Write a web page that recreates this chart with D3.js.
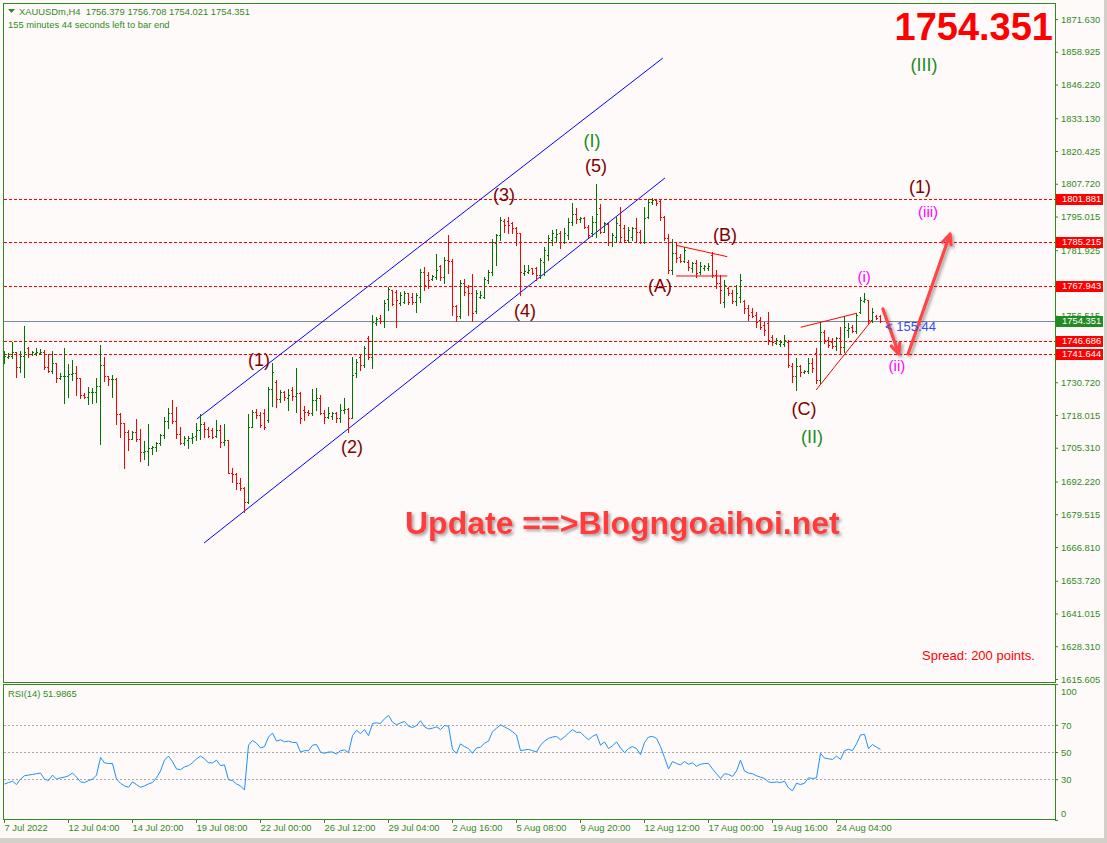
<!DOCTYPE html>
<html>
<head>
<meta charset="utf-8">
<script src="https://cdn.jsdelivr.net/npm/d3@7"></script>
<style>
  body { margin: 0; background: #fffafa; }
  svg { display: block; font-family: "Liberation Sans", Arial, sans-serif; }
</style>
</head>
<body>
<svg id="chart" width="1107" height="843"></svg>
<script>
// XAUUSDm H4 bars (bar index 0 = 7 Jul 2022)
const opens = [
  1740.26,1740.65,1741.04,1742.33,1736.51,1740.78,1743.88,1741.55,1741.94,1741.94,
  1742.59,1736.77,1735.09,1738.06,1732.50,1733.15,1733.28,1733.92,1734.18,1732.50,
  1725.78,1725.13,1726.81,1727.07,1729.27,1737.41,1733.15,1731.86,1731.98,1718.41,
  1714.79,1711.55,1708.71,1711.55,1708.71,1703.80,1704.06,1705.09,1705.48,1707.29,
  1710.26,1715.69,1718.67,1715.69,1710.65,1707.29,1708.32,1708.97,1709.87,1712.20,
  1714.53,1712.46,1712.20,1709.87,1712.20,1707.67,1708.32,1695.65,1695.13,1691.51,
  1689.57,1684.40,1713.49,1719.31,1718.02,1718.66,1716.08,1727.97,1730.95,1724.10,
  1727.07,1724.48,1727.72,1725.39,1726.42,1719.96,1719.31,1718.92,1723.84,1724.48,
  1718.66,1717.11,1717.63,1718.66,1716.73,1719.96,1720.22,1716.73,1734.18,1740.65,
  1737.42,1747.76,1740.65,1753.58,1755.52,1754.61,1762.89,1766.51,1765.86,1761.34,
  1761.98,1765.22,1763.92,1761.98,1763.92,1773.62,1772.33,1770.65,1771.68,1775.82,
  1771.68,1778.15,1777.89,1760.30,1756.42,1769.09,1767.80,1765.47,1758.49,1763.66,
  1763.92,1770.39,1773.62,1784.61,1787.84,1793.40,1793.40,1792.37,1790.43,1788.49,
  1773.23,1773.62,1774.91,1774.91,1772.33,1777.50,1780.09,1785.91,1787.20,1788.49,
  1785.26,1787.85,1793.02,1795.86,1793.92,1794.31,1791.08,1788.49,1793.02,1798.19,
  1789.14,1791.98,1785.26,1787.20,1791.72,1790.43,1785.91,1787.20,1790.43,1789.14,
  1785.26,1794.96,1800.52,1801.55,1801.03,1794.96,1786.55,1774.27,1780.73,1779.44,
  1777.76,1777.24,1774.92,1776.86,1773.62,1774.92,1775.17,1780.09,1772.33,1769.10,
  1762.00,1767.15,1765.47,1762.37,1763.92,1762.40,1759.39,1758.10,1756.81,1754.87,
  1752.93,1753.57,1748.40,1746.08,1745.56,1745.56,1746.46,1737.02,1733.15,1737.02,
  1734.83,1735.21,1738.32,1741.94,1731.59,1750.34,1747.11,1746.46,1744.78,1747.76,
  1744.52,1751.00,1752.02,1750.73,1758.10,1762.37,1762.63,1754.87,1756.42,1756.38
]
const highs = [
  1742.85,1741.94,1746.47,1742.33,1742.85,1752.54,1744.53,1742.85,1743.88,1743.49,
  1743.23,1741.55,1742.85,1738.06,1734.18,1744.14,1737.80,1739.35,1737.16,1732.50,
  1726.42,1729.01,1728.62,1732.24,1745.17,1740.39,1733.15,1733.54,1732.24,1718.67,
  1715.05,1712.20,1711.81,1716.34,1712.59,1707.93,1714.40,1706.00,1707.68,1710.65,
  1717.37,1720.61,1723.84,1721.25,1713.49,1709.87,1709.87,1710.91,1714.79,1718.28,
  1715.43,1713.49,1712.85,1716.08,1714.14,1714.40,1708.32,1697.33,1695.65,1693.45,
  1690.22,1718.41,1719.96,1720.22,1719.31,1720.22,1729.01,1738.06,1731.59,1727.72,
  1727.33,1727.97,1729.01,1736.38,1727.07,1721.51,1719.96,1727.97,1728.36,1725.78,
  1719.96,1721.25,1719.31,1719.31,1722.29,1724.48,1720.60,1740.65,1739.61,1741.68,
  1744.79,1748.67,1756.81,1755.91,1756.81,1762.63,1767.80,1766.51,1766.51,1765.86,
  1766.25,1765.47,1765.22,1765.22,1774.53,1775.56,1773.62,1772.33,1780.47,1776.21,
  1779.44,1787.84,1778.40,1760.69,1770.39,1770.65,1768.45,1772.72,1766.51,1766.25,
  1771.68,1774.27,1786.16,1788.23,1794.95,1793.92,1794.95,1793.02,1790.82,1788.75,
  1776.21,1776.21,1775.17,1775.56,1778.79,1783.32,1787.85,1789.79,1790.17,1789.40,
  1790.43,1794.57,1800.13,1798.45,1794.96,1794.96,1791.72,1795.35,1807.63,1799.74,
  1793.02,1792.37,1788.49,1794.96,1798.84,1791.72,1791.08,1791.08,1794.31,1789.79,
  1798.84,1801.68,1802.07,1801.81,1801.68,1795.35,1788.10,1786.17,1784.61,1780.35,
  1783.32,1778.15,1777.50,1778.15,1777.24,1776.21,1776.86,1781.38,1774.27,1772.33,
  1770.39,1767.80,1766.50,1768.44,1772.58,1762.63,1760.69,1759.39,1758.10,1756.16,
  1754.22,1758.10,1749.05,1747.76,1747.11,1749.05,1747.11,1738.06,1740.00,1737.41,
  1735.47,1740.00,1740.00,1743.88,1754.22,1750.99,1748.40,1747.76,1748.40,1752.28,
  1756.42,1753.57,1752.93,1757.71,1763.92,1765.21,1762.63,1759.39,1756.81,1756.71
]
const lows = [
  1738.32,1740.00,1740.26,1732.89,1734.57,1732.63,1740.65,1741.29,1741.29,1741.55,
  1735.86,1734.83,1734.18,1730.95,1731.98,1722.80,1725.13,1731.60,1725.78,1724.48,
  1724.48,1722.29,1722.55,1722.93,1706.77,1731.34,1729.66,1725.13,1714.53,1709.62,
  1697.59,1704.44,1708.71,1707.93,1700.18,1700.95,1698.62,1702.76,1704.06,1706.38,
  1708.97,1712.85,1714.79,1709.23,1706.77,1706.38,1705.09,1707.03,1708.32,1708.58,
  1709.61,1709.36,1708.97,1709.36,1705.73,1706.38,1695.39,1692.16,1689.18,1688.93,
  1680.52,1683.75,1713.49,1716.73,1713.49,1712.72,1715.43,1721.51,1721.25,1723.19,
  1723.84,1719.96,1723.84,1719.31,1715.04,1716.08,1718.02,1718.02,1719.96,1718.41,
  1715.04,1716.73,1716.34,1715.43,1715.43,1718.92,1711.55,1716.73,1732.89,1735.48,
  1736.77,1739.61,1736.12,1752.93,1753.84,1752.29,1758.75,1760.69,1752.03,1760.69,
  1761.34,1761.08,1761.08,1758.10,1761.98,1766.51,1767.16,1770.39,1770.65,1770.39,
  1769.09,1772.97,1756.81,1754.61,1755.52,1764.57,1756.81,1754.61,1757.46,1763.28,
  1763.28,1769.09,1772.33,1776.21,1785.90,1789.14,1788.49,1788.49,1783.96,1764.57,
  1772.33,1772.97,1772.72,1770.39,1771.03,1772.33,1778.15,1783.97,1785.26,1782.93,
  1784.61,1786.17,1791.72,1792.63,1793.02,1790.43,1787.20,1787.59,1787.20,1788.49,
  1788.88,1783.97,1783.58,1785.26,1785.26,1785.26,1785.26,1785.91,1785.26,1784.61,
  1784.61,1794.57,1799.74,1799.48,1793.66,1785.91,1772.98,1772.72,1777.50,1777.24,
  1777.50,1774.27,1773.62,1771.68,1772.59,1774.27,1774.27,1771.68,1767.16,1761.60,
  1760.05,1764.57,1761.33,1760.69,1761.98,1757.45,1754.87,1756.16,1752.28,1751.25,
  1749.05,1745.56,1745.17,1745.56,1744.78,1744.78,1736.77,1730.95,1727.71,1733.15,
  1734.18,1734.44,1734.83,1730.30,1730.30,1745.82,1744.27,1743.88,1743.23,1741.94,
  1742.58,1748.40,1750.34,1749.70,1757.45,1761.98,1753.83,1754.22,1755.13,1754.02
]
const closes = [
  1741.04,1741.04,1742.33,1736.51,1740.78,1742.33,1741.55,1742.59,1742.33,1742.59,
  1736.77,1735.09,1738.06,1732.50,1733.15,1733.28,1733.92,1734.18,1732.50,1725.78,
  1725.13,1726.81,1727.07,1729.27,1737.41,1733.15,1731.86,1731.98,1718.41,1714.79,
  1711.55,1708.71,1711.55,1708.71,1703.80,1704.06,1705.09,1705.48,1707.29,1710.26,
  1715.69,1718.67,1715.69,1710.65,1707.29,1708.97,1708.97,1709.61,1712.20,1714.53,
  1712.46,1709.87,1709.61,1712.20,1707.67,1708.32,1695.65,1695.13,1691.51,1689.57,
  1684.40,1713.49,1719.31,1718.02,1714.14,1713.49,1727.97,1734.83,1724.10,1727.07,
  1725.13,1725.78,1725.39,1726.42,1716.73,1719.31,1718.92,1723.84,1724.48,1718.66,
  1717.11,1718.66,1718.66,1716.73,1719.96,1720.22,1716.73,1733.53,1738.71,1737.42,
  1743.88,1740.65,1754.23,1755.13,1754.61,1761.34,1766.77,1761.08,1762.63,1764.57,
  1765.47,1761.98,1761.98,1764.57,1773.62,1768.45,1770.39,1771.94,1774.27,1771.68,
  1778.15,1777.89,1760.30,1756.42,1769.09,1765.86,1765.47,1757.46,1765.22,1764.57,
  1770.65,1773.62,1785.26,1787.84,1793.66,1791.72,1791.72,1790.43,1788.49,1773.62,
  1774.01,1774.27,1773.23,1772.33,1778.15,1782.02,1786.55,1788.49,1788.10,1785.26,
  1788.49,1793.02,1795.86,1794.05,1794.57,1791.08,1787.85,1793.02,1795.86,1789.14,
  1792.37,1785.26,1787.85,1792.37,1787.20,1785.91,1789.79,1790.43,1789.14,1785.26,
  1794.57,1800.78,1801.42,1800.13,1794.96,1786.55,1774.27,1780.73,1778.79,1777.76,
  1782.03,1775.56,1776.86,1772.98,1775.95,1775.82,1775.95,1772.33,1769.10,1766.51,
  1768.45,1765.47,1762.37,1765.21,1770.38,1759.39,1756.81,1756.42,1754.22,1752.28,
  1750.99,1747.11,1746.46,1747.11,1746.46,1747.11,1737.41,1733.15,1737.02,1734.83,
  1735.21,1738.32,1736.12,1731.59,1750.34,1747.11,1745.17,1744.78,1747.76,1744.52,
  1752.02,1751.64,1750.73,1756.81,1762.63,1762.88,1754.87,1758.10,1755.51,1754.35
]
// RSI(14) per bar
const rsi = [
  26.4,27.5,28.5,26,30,32.5,33,33.5,34,34.5,
  30,29,33,30,31,31.5,32.5,34.5,31.5,28,
  27.5,29,30,33,46,42,41.5,41.5,30,27,
  25,24,28,26,24,25,26.5,27.5,31,36,
  44,47,43,37.5,37,39,40,42,45,47,
  45,42,42,44,40,40.5,29.5,29,26.5,25,
  22,55,58.5,56.5,53,54,61,64,58,59,
  57.5,58,57,57,50,51,51,55,55.5,50,
  49,50,50,48.5,51,51.5,49.5,62,66,63.5,
  66.5,62,71,71.5,71,74.5,77,72,70,71.5,
  72.5,69,68,69.5,73,68.5,67,67.5,68.5,66.5,
  69.5,69,52,49,56,54,52.5,49,53,53.5,
  56.5,58,65,67.5,70,68.5,67,65,62.5,51,
  51.5,52,51,50,55,58,60,61,61.5,59,
  61,64,66.5,64.5,64.5,61.5,59,61.5,63,55,
  57.5,52.5,54.5,57.5,53,49.5,52.5,54,52.5,48,
  57,61,61.5,60,54,46,37.5,43,41.5,40.5,
  43,41,42,39.5,41,41.5,41.5,37.5,34,30.5,
  34,33.5,32,36,44,36,34.5,34,32.5,31.5,
  30.5,28,27.5,28,27.5,28.5,23.5,21.5,27,26,
  27,31,30.5,31,49,45.5,45,44.5,47,44.5,
  51,52,51,56,62.5,63,52.5,55.5,53.5,51.99
]

const priceTicks = [1871.630, 1858.925, 1846.220, 1833.130, 1820.425, 1807.720, 1795.015, 1781.925,
  1756.515, 1730.720, 1718.015, 1705.310, 1692.220, 1679.515, 1666.810, 1653.720, 1641.015, 1628.310, 1615.605]
const timeTickIdx = [0, 16, 32, 48, 64, 80, 96, 112, 128, 144, 160, 176, 192, 208]
const timeLabels = ['7 Jul 2022', '12 Jul 04:00', '14 Jul 20:00', '19 Jul 08:00', '22 Jul 00:00', '26 Jul 12:00',
  '29 Jul 04:00', '2 Aug 16:00', '5 Aug 08:00', '9 Aug 20:00', '12 Aug 12:00', '17 Aug 00:00', '19 Aug 16:00', '24 Aug 04:00']
const rsiTicks = [100, 70, 50, 30, 0]
const rsiLevels = [70, 50, 30]

const levelLines = [1801.881, 1785.215, 1767.943, 1746.686, 1741.644]
const bid = 1754.351

// drawn objects, in [bar index, price] pairs
const channelLines = [
  [48.1, 1716.47, 164.6, 1856.50],
  [49.9, 1668.37, 165.1, 1809.95]
]
const redLines = [
  [167.9, 1783.85, 180.7, 1779.43],
  [167.9, 1771.94, 180.7, 1771.94],
  [199.05, 1752.04, 213.05, 1757.47],
  [202.9, 1727.72, 216.9, 1754.87]
]
const arrows = [
  [219.6, 1759.14, 223.6, 1741.68],
  [225.9, 1741.68, 236.4, 1788.23]
]
const maroonLabels = [
  ['(1)', 63.6, 1739.36], ['(2)', 86.9, 1705.61], ['(3)', 124.9, 1803.36], ['(4)', 130.1, 1758.36],
  ['(5)', 147.9, 1814.61], ['(A)', 163.9, 1768.06], ['(B)', 180.1, 1787.84], ['(C)', 199.9, 1720.35],
  ['(1)', 228.9, 1806.46]
]
const greenLabels = [['(I)', 146.9, 1824.31], ['(II)', 201.9, 1709.49], ['(III)', 229.9, 1853.79]]
const magentaLabels = [['(i)', 214.9, 1771.55], ['(ii)', 223.1, 1737.03], ['(iii)', 230.9, 1796.76]]

const fg = '#2f8a22'
const upColor = '#007400'
const downColor = '#ff0000'
const fontSmall = 9.4

const svg = d3.select('#chart')
const main = { left: 3.5, right: 1055.5, top: 3.5, bottom: 682.5 }
const pane = { top: 684.5, bottom: 819.5 }

const defs = svg.append('defs')
defs.append('filter').attr('id', 'shadow').attr('x', '-10%').attr('y', '-20%').attr('width', '130%').attr('height', '160%')
  .append('feDropShadow').attr('dx', 2).attr('dy', 2).attr('stdDeviation', 1.6)
  .attr('flood-color', '#000').attr('flood-opacity', 0.35)

svg.append('rect').attr('width', 1107).attr('height', 843).attr('fill', '#fffafa')

const x = d3.scaleLinear().domain([0, closes.length - 1]).range([4.5, 4.5 + 4 * (closes.length - 1)])
const y = d3.scaleLinear().domain([1615.605, 1871.63]).range([679, 19])
const yR = d3.scaleLinear().domain([0, 100]).range([819.9, 684.1])

// horizontal levels
svg.append('g').selectAll('line').data(levelLines).join('line')
  .attr('x1', main.left).attr('x2', main.right)
  .attr('y1', d => Math.round(y(d)) + 0.5).attr('y2', d => Math.round(y(d)) + 0.5)
  .attr('stroke', '#ff0000').attr('stroke-dasharray', '3,2').attr('shape-rendering', 'crispEdges')
svg.append('line').attr('x1', main.left).attr('x2', main.right)
  .attr('y1', Math.round(y(bid)) + 0.5).attr('y2', Math.round(y(bid)) + 0.5)
  .attr('stroke', '#7a8a96').attr('shape-rendering', 'crispEdges')

// channel
svg.append('g').selectAll('line').data(channelLines).join('line')
  .attr('x1', d => x(d[0])).attr('y1', d => y(d[1])).attr('x2', d => x(d[2])).attr('y2', d => y(d[3]))
  .attr('stroke', '#0000ff').attr('stroke-width', 1)

// bars
svg.append('g').attr('shape-rendering', 'crispEdges').attr('fill', 'none')
  .selectAll('path').data(d3.range(closes.length)).join('path')
  .attr('stroke', i => closes[i] >= opens[i] ? upColor : downColor)
  .attr('d', i => {
    const cx = Math.round(x(i) - 0.5) + 0.5
    const yh = Math.round(y(highs[i]))
    const yl = Math.round(y(lows[i]))
    const yo = Math.round(y(opens[i])) + 0.5
    const yc = Math.round(y(closes[i])) + 0.5
    return `M${cx},${yh}V${yl + 1}M${cx - 1.5},${yo}H${cx}M${cx},${yc}H${cx + 1.5}`
  })

// thin red drawings
svg.append('g').selectAll('line').data(redLines).join('line')
  .attr('x1', d => x(d[0])).attr('y1', d => y(d[1])).attr('x2', d => x(d[2])).attr('y2', d => y(d[3]))
  .attr('stroke', '#ff0000').attr('stroke-width', 1)

// arrows
const arrowG = svg.append('g').attr('filter', 'url(#shadow)')
arrows.forEach(a => {
  const x1 = x(a[0]), y1 = y(a[1]), x2 = x(a[2]), y2 = y(a[3])
  const ang = Math.atan2(y2 - y1, x2 - x1)
  const hl = 11, spread = 0.42
  const hx1 = x2 - hl * Math.cos(ang - spread), hy1 = y2 - hl * Math.sin(ang - spread)
  const hx2 = x2 - hl * Math.cos(ang + spread), hy2 = y2 - hl * Math.sin(ang + spread)
  arrowG.append('path')
    .attr('d', `M${x1},${y1}L${x2},${y2}M${hx1},${hy1}L${x2},${y2}L${hx2},${hy2}`)
    .attr('fill', 'none').attr('stroke', '#ff4444').attr('stroke-width', 3.2)
    .attr('stroke-linecap', 'round').attr('stroke-linejoin', 'round')
})

// wave labels
function labels (data, color, size) {
  svg.append('g').selectAll('text').data(data).join('text')
    .attr('x', d => x(d[1])).attr('y', d => y(d[2])).attr('dy', '0.35em')
    .attr('text-anchor', 'middle').attr('font-family', 'Arial, "Liberation Sans", sans-serif')
    .attr('font-size', size).attr('fill', color)
    .text(d => d[0])
}
labels(maroonLabels, '#800000', 18)
labels(greenLabels, '#228b22', 18)
labels(magentaLabels, '#ff00ff', 15)

// countdown next to last bar
svg.append('text').attr('x', 885).attr('y', 331).attr('font-size', 13).attr('fill', '#2f4dff').text('< 155:44')

// panel frames
svg.append('rect').attr('x', main.left).attr('y', main.top)
  .attr('width', main.right - main.left).attr('height', main.bottom - main.top)
  .attr('fill', 'none').attr('stroke', fg).attr('shape-rendering', 'crispEdges')
svg.append('rect').attr('x', main.left).attr('y', pane.top)
  .attr('width', main.right - main.left).attr('height', pane.bottom - pane.top)
  .attr('fill', 'none').attr('stroke', fg).attr('shape-rendering', 'crispEdges')

// price axis
svg.append('g').attr('transform', `translate(${main.right - 0.5},0)`)
  .call(d3.axisRight(y).tickValues(priceTicks).tickSize(3).tickFormat(d3.format('.3f')))
  .call(g => g.select('.domain').remove())
  .call(g => g.selectAll('line').attr('stroke', fg))
  .call(g => g.selectAll('text').attr('fill', fg).attr('x', 6))
  .attr('font-family', null).attr('font-size', fontSmall)

// level price boxes on the axis
const boxG = svg.append('g')
levelLines.forEach(v => {
  const yy = Math.round(y(v))
  boxG.append('rect').attr('x', 1056).attr('y', yy - 5).attr('width', 47).attr('height', 11).attr('fill', '#ff0000')
  boxG.append('text').attr('x', 1062).attr('y', yy).attr('dy', '0.35em').attr('font-size', fontSmall)
    .attr('fill', '#ffffff').text(v.toFixed(3))
})
{
  const yy = Math.round(y(bid))
  boxG.append('rect').attr('x', 1056).attr('y', yy - 5).attr('width', 47).attr('height', 11).attr('fill', '#228b22')
  boxG.append('text').attr('x', 1062).attr('y', yy).attr('dy', '0.35em').attr('font-size', fontSmall)
    .attr('fill', '#ffffff').text(bid.toFixed(3))
}

// RSI pane
svg.append('g').selectAll('line').data(rsiLevels).join('line')
  .attr('x1', main.left).attr('x2', main.right)
  .attr('y1', d => Math.round(yR(d)) + 0.5).attr('y2', d => Math.round(yR(d)) + 0.5)
  .attr('stroke', '#a8a8a8').attr('stroke-dasharray', '2,2').attr('shape-rendering', 'crispEdges')
svg.append('path').datum(rsi)
  .attr('d', d3.line().x((d, i) => x(i)).y(d => yR(d)))
  .attr('fill', 'none').attr('stroke', '#1e90ff').attr('stroke-width', 1)
svg.append('g').attr('transform', `translate(${main.right - 0.5},0)`)
  .call(d3.axisRight(yR).tickValues(rsiTicks).tickSize(3))
  .call(g => g.select('.domain').remove())
  .call(g => g.selectAll('line').attr('stroke', fg))
  .call(g => g.selectAll('text').attr('fill', fg).attr('x', 6)
    .attr('dy', d => d === 100 ? '1.1em' : d === 0 ? '-0.4em' : '0.35em'))
  .attr('font-family', null).attr('font-size', fontSmall)
svg.append('text').attr('x', 8).attr('y', 697).attr('font-size', fontSmall).attr('fill', fg).text('RSI(14) 51.9865')

// time axis
svg.append('g').attr('transform', `translate(0,${pane.bottom - 0.5})`)
  .call(d3.axisBottom(x).tickValues(timeTickIdx).tickSize(4).offset(0).tickFormat((d, k) => timeLabels[k]))
  .call(g => g.select('.domain').remove())
  .call(g => g.selectAll('line').attr('stroke', fg).attr('shape-rendering', 'crispEdges'))
  .call(g => g.selectAll('text').attr('fill', fg).attr('text-anchor', 'start').attr('x', 0).attr('y', 5).attr('dy', '0.71em'))
  .attr('font-family', null).attr('font-size', fontSmall)

// header
svg.append('path').attr('d', 'M8,9L15,9L11.5,13Z').attr('fill', fg)
svg.append('text').attr('x', 19).attr('y', 15).attr('font-size', fontSmall).attr('fill', fg)
  .attr('xml:space', 'preserve').text('XAUUSDm,H4  1756.379 1756.708 1754.021 1754.351')
svg.append('text').attr('x', 8).attr('y', 28).attr('font-size', fontSmall).attr('fill', fg)
  .text('155 minutes 44 seconds left to bar end')

// overlays
svg.append('text').attr('x', 1053).attr('y', 40).attr('text-anchor', 'end')
  .attr('font-family', 'Arial, "Liberation Sans", sans-serif').attr('font-weight', 'bold').attr('font-size', 38)
  .attr('fill', '#ff0000').text('1754.351')
svg.append('text').attr('x', 405).attr('y', 534).attr('filter', 'url(#shadow)')
  .attr('font-family', 'Arial, "Liberation Sans", sans-serif').attr('font-weight', 'bold').attr('font-size', 32)
  .attr('fill', '#ff3b3b').text('Update ==>Blogngoaihoi.net')
svg.append('text').attr('x', 922).attr('y', 660).attr('font-size', 13).attr('fill', '#ff0000').text('Spread: 200 points.')

// window edge
svg.append('rect').attr('x', 1104).attr('y', 0).attr('width', 3).attr('height', 843).attr('fill', '#d4d0c8')
svg.append('rect').attr('x', 0).attr('y', 838).attr('width', 1107).attr('height', 5).attr('fill', '#d4d0c8')
</script>
</body>
</html>
